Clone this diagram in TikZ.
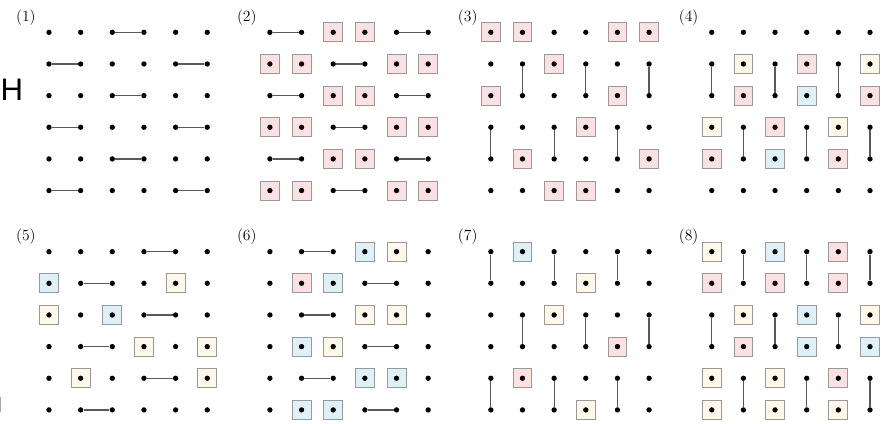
\documentclass[tikz,border=0pt]{standalone}
\usepackage{fontspec}
\newfontfamily\literamare{Liberation Sans}
\usepackage{tikz}
\usetikzlibrary{backgrounds}
\definecolor{rozdeschis}{HTML}{FCE1E3}
\definecolor{albastrudeschis}{HTML}{DFF1F8}
\definecolor{galbendeschis}{HTML}{FDF8E7}
\tikzset{
  punct/.style    = {circle, fill=black, inner sep=0pt, minimum size=4.8pt},
  patrat/.style   = {draw=black!40, line width=0.8pt, inner sep=0pt, minimum size=17pt},
  roz/.style      = {patrat, fill=rozdeschis},
  albastru/.style = {patrat, fill=albastrudeschis},
  galben/.style   = {patrat, fill=galbendeschis},
  legatura/.style = {draw=black!65, line width=1.1pt},
  numar/.style    = {font=\fontsize{14}{16}\selectfont, inner sep=0pt}
}

\begin{document}
\begin{tikzpicture}[x=1cm, y=1cm]
    \useasboundingbox (-1.548,1.021) rectangle (26.414,-12.344);
    \node[font=\literamare\fontsize{28}{30}\selectfont, inner sep=0pt] (litera) at (-1.169,-1.823) {H};
    \draw[black!35, line width=0.8pt] (-1.535,-11.53) -- (-1.535,-11.99);

    % cele opt grile de 6 x 6 puncte
    \foreach \k/\ox/\oy in {1/0/0, 2/6.98/0, 3/13.96/0, 4/20.94/0,
                            5/0/-6.93, 6/6.98/-6.93, 7/13.96/-6.93, 8/20.94/-6.93} {
        \node[numar] (n\k) at (\ox-0.73, \oy+0.46) {(\k)};
        \foreach \c in {0,...,5}
            \foreach \r in {0,...,5}
                \node[punct] (p\k-\c\r) at (\ox+\c, \oy-\r) {};
    }

    % patratele colorate
    \begin{scope}[on background layer]
        \foreach \s/\c in {roz/20, roz/30, roz/01, roz/11, roz/41, roz/51, roz/22, roz/32,
                           roz/03, roz/13, roz/43, roz/53, roz/24, roz/34, roz/05, roz/15, roz/45, roz/55}
            \node[\s] (s2-\c) at (p2-\c) {};
        \foreach \s/\c in {roz/00, roz/10, roz/40, roz/50, roz/21, roz/02, roz/42, roz/33,
                           roz/14, roz/54, roz/25, roz/35}
            \node[\s] (s3-\c) at (p3-\c) {};
        \foreach \s/\c in {galben/11, galben/51, galben/03, galben/43, roz/31, roz/12, roz/52,
                           roz/23, roz/04, roz/44, albastru/32, albastru/24}
            \node[\s] (s4-\c) at (p4-\c) {};
        \foreach \s/\c in {albastru/01, albastru/22, galben/41, galben/02, galben/33, galben/53,
                           galben/14, galben/54}
            \node[\s] (s5-\c) at (p5-\c) {};
        \foreach \s/\c in {albastru/30, albastru/21, albastru/13, albastru/34, albastru/44,
                           albastru/15, albastru/25, galben/40, galben/32, galben/42, galben/23, roz/11}
            \node[\s] (s6-\c) at (p6-\c) {};
        \foreach \s/\c in {albastru/10, galben/31, galben/22, galben/35, roz/43, roz/14}
            \node[\s] (s7-\c) at (p7-\c) {};
        \foreach \s/\c in {galben/00, galben/12, galben/52, galben/04, galben/24, galben/05,
                           galben/25, galben/45, albastru/20, albastru/32, albastru/33, albastru/53,
                           roz/40, roz/01, roz/21, roz/41, roz/13, roz/44}
            \node[\s] (s8-\c) at (p8-\c) {};
    \end{scope}

    % dimerii
    \foreach \a/\b in {20/30, 01/11, 41/51, 22/32, 03/13, 43/53, 24/34, 05/15, 45/55}
        \draw[legatura] (p1-\a) -- (p1-\b);
    \foreach \a/\b in {00/10, 40/50, 21/31, 02/12, 42/52, 23/33, 04/14, 44/54, 25/35}
        \draw[legatura] (p2-\a) -- (p2-\b);
    \foreach \a/\b in {11/12, 31/32, 51/52, 03/04, 23/24, 43/44}
        \draw[legatura] (p3-\a) -- (p3-\b);
    \foreach \a/\b in {01/02, 21/22, 41/42, 13/14, 33/34, 53/54}
        \draw[legatura] (p4-\a) -- (p4-\b);
    \foreach \a/\b in {30/40, 11/21, 32/42, 13/23, 34/44, 15/25}
        \draw[legatura] (p5-\a) -- (p5-\b);
    \foreach \a/\b in {10/20, 31/41, 12/22, 33/43, 14/24, 35/45}
        \draw[legatura] (p6-\a) -- (p6-\b);
    \foreach \a/\b in {00/01, 20/21, 40/41, 12/13, 32/33, 52/53, 04/05, 24/25, 44/45}
        \draw[legatura] (p7-\a) -- (p7-\b);
    \foreach \a/\b in {10/11, 30/31, 50/51, 02/03, 22/23, 42/43, 14/15, 34/35, 54/55}
        \draw[legatura] (p8-\a) -- (p8-\b);
\end{tikzpicture}
\end{document}
